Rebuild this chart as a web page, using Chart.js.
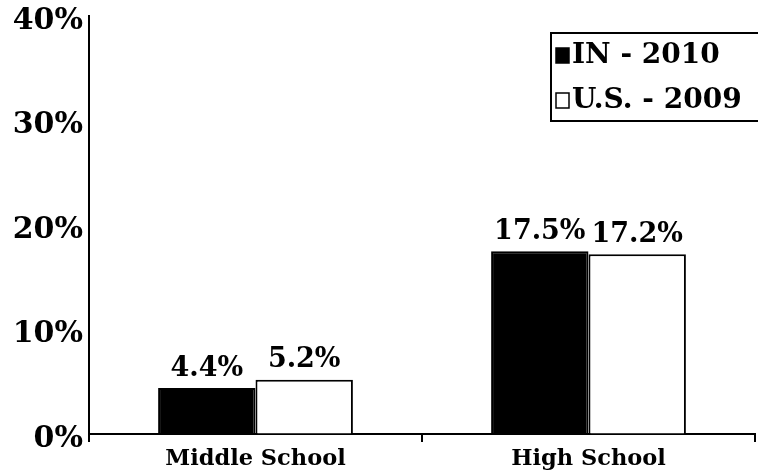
<!DOCTYPE html>
<html>
<head>
<meta charset="utf-8">
<script src="https://cdn.jsdelivr.net/npm/chart.js@4"></script>
<style>
  html, body { margin: 0; padding: 0; background: #fff; }
  #wrap { width: 758px; height: 474px; }
</style>
</head>
<body>
<div id="wrap"><canvas id="chart" width="758" height="474"></canvas></div>
<script>
// data
const categories = ["Middle School", "High School"];
const seriesNames = ["IN - 2010", "U.S. - 2009"];
const inValues = [4.4, 17.5];
const usValues = [5.2, 17.2];
const yTicks = [0, 10, 20, 30, 40];

const FONT = "'DejaVu Serif', Georgia, serif";

// value labels above each bar
const barLabels = {
    id: "barLabels",
    afterDatasetsDraw(chart) {
        const ctx = chart.ctx;
        ctx.save();
        ctx.font = "bold 27px " + FONT;
        ctx.fillStyle = "#000";
        ctx.textAlign = "center";
        ctx.textBaseline = "bottom";
        chart.data.datasets.forEach((ds, i) => {
            chart.getDatasetMeta(i).data.forEach((bar, j) => {
                ctx.fillText(ds.data[j].toFixed(1) + "%", bar.x, bar.y - 6);
            });
        });
        ctx.restore();
    }
};

// boxed legend in the top right corner
const boxLegend = {
    id: "boxLegend",
    afterDraw(chart) {
        const ctx = chart.ctx;
        const x0 = 551, y0 = 33, w = 210, h = 88;
        ctx.save();
        ctx.lineWidth = 2;
        ctx.strokeStyle = "#000";
        ctx.strokeRect(x0, y0, w, h);
        ctx.font = "bold 28px " + FONT;
        ctx.textBaseline = "middle";
        const rows = [55, 100];
        chart.data.datasets.forEach((ds, i) => {
            const cy = rows[i];
            ctx.fillStyle = ds.backgroundColor;
            ctx.fillRect(556, cy - 7, 13, 15);
            ctx.lineWidth = 1.5;
            ctx.strokeRect(556, cy - 7, 13, 15);
            ctx.fillStyle = "#000";
            ctx.fillText(ds.label, 572, cy + 1);
        });
        ctx.restore();
    }
};

new Chart(document.getElementById("chart"), {
    type: "bar",
    data: {
        labels: categories,
        datasets: [{
            label: seriesNames[0],
            data: inValues,
            backgroundColor: "#000",
            borderColor: "#000",
            borderWidth: 2
        }, {
            label: seriesNames[1],
            data: usValues,
            backgroundColor: "#fff",
            borderColor: "#000",
            borderWidth: 2
        }]
    },
    options: {
        responsive: false,
        animation: false,
        layout: { padding: { top: 16, right: 3, left: 0, bottom: 0 } },
        datasets: { bar: { categoryPercentage: 0.585, barPercentage: 1.0 } },
        plugins: {
            legend: { display: false },
            tooltip: { enabled: false }
        },
        scales: {
            x: {
                afterFit: s => { s.height = 40; },
                grid: { display: true, drawOnChartArea: false, drawTicks: true, tickLength: 8, color: "#000", lineWidth: 2 },
                border: { display: true, color: "#000", width: 2 },
                ticks: { color: "#000", font: { family: FONT, size: 22.5, weight: "bold" }, padding: 4 }
            },
            y: {
                min: 0,
                max: 40,
                afterFit: s => { s.width = 89; },
                afterBuildTicks: s => { s.ticks = yTicks.map(v => ({ value: v })); },
                grid: { display: true, drawOnChartArea: false, drawTicks: false },
                border: { display: true, color: "#000", width: 2 },
                ticks: {
                    color: "#000",
                    padding: 6,
                    labelOffset: 5,
                    font: { family: FONT, size: 30, weight: "bold", lineHeight: 0.6 },
                    callback: v => v + "%"
                }
            }
        }
    },
    plugins: [barLabels, boxLegend]
});
</script>
</body>
</html>
